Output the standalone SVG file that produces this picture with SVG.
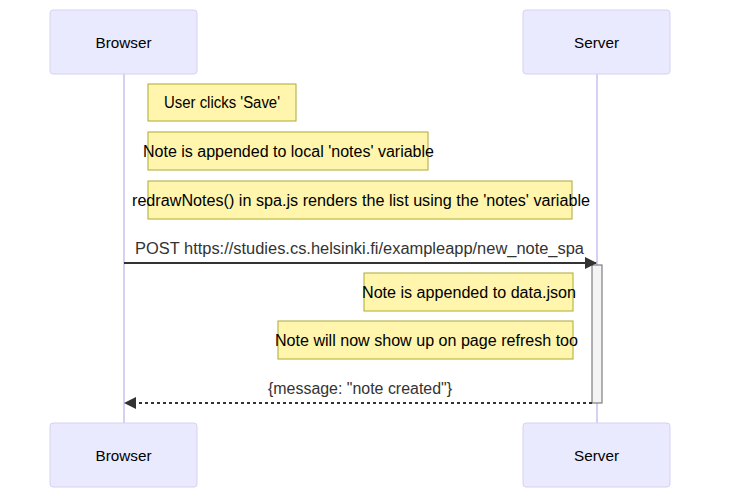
<svg xmlns="http://www.w3.org/2000/svg" width="729" height="504" viewBox="0 0 729 504">
<style>
.actor{fill:#eaeaff;stroke:#d6d0f2;stroke-width:1}
.atext{font-family:"Liberation Sans",Arial,sans-serif;font-size:15.5px;fill:#000;text-anchor:middle;dominant-baseline:central}
.life{stroke:#d6d0f2;stroke-width:2}
.note{fill:#fff5ad;stroke:#aaaa33;stroke-width:1}
.ntext{font-family:"Liberation Sans",Arial,sans-serif;font-size:16px;fill:#000;text-anchor:middle;dominant-baseline:central}
.mtext{font-family:"Liberation Sans",Arial,sans-serif;font-size:16px;fill:#333;text-anchor:middle;dominant-baseline:central}
.msg{stroke:#333;stroke-width:2;fill:none}
.act{fill:#f4f4f4;stroke:#666;stroke-width:1}
</style>
<defs>
<marker id="arrow" viewBox="0 0 12 12" refX="11" refY="6" markerWidth="12" markerHeight="12" markerUnits="userSpaceOnUse" orient="auto">
<path d="M0,0 L12,6 L0,12 z" fill="#333"/>
</marker>
</defs>
<g id="lifelines">
<line class="life" x1="124" y1="74" x2="124" y2="423"/>
<line class="life" x1="597" y1="74" x2="597" y2="423"/>
</g>
<g id="browser-top"><rect class="actor" x="50" y="10" width="147" height="64" rx="3"/><text class="atext" x="123.5" y="42" textLength="56" lengthAdjust="spacingAndGlyphs">Browser</text></g>
<g id="server-top"><rect class="actor" x="523" y="10" width="147" height="64" rx="3"/><text class="atext" x="596.5" y="42" textLength="45" lengthAdjust="spacingAndGlyphs">Server</text></g>
<g id="browser-bottom"><rect class="actor" x="50" y="423" width="147" height="64" rx="3"/><text class="atext" x="123.5" y="455" textLength="56" lengthAdjust="spacingAndGlyphs">Browser</text></g>
<g id="server-bottom"><rect class="actor" x="523" y="423" width="147" height="64" rx="3"/><text class="atext" x="596.5" y="455" textLength="45" lengthAdjust="spacingAndGlyphs">Server</text></g>
<g id="activation"><rect class="act" x="592" y="265" width="10" height="138"/></g>
<g id="note1"><rect class="note" x="148" y="84" width="148" height="37"/><text class="ntext" x="222" y="102.5" textLength="116" lengthAdjust="spacingAndGlyphs">User clicks 'Save'</text></g>
<g id="note2"><rect class="note" x="148" y="132" width="280" height="38"/><text class="ntext" x="288.5" y="151" textLength="291" lengthAdjust="spacingAndGlyphs">Note is appended to local 'notes' variable</text></g>
<g id="note3"><rect class="note" x="148" y="181" width="424" height="38"/><text class="ntext" x="361" y="200" textLength="458" lengthAdjust="spacingAndGlyphs">redrawNotes() in spa.js renders the list using the 'notes' variable</text></g>
<g id="note4"><rect class="note" x="364" y="273" width="209" height="38"/><text class="ntext" x="469" y="292" textLength="214" lengthAdjust="spacingAndGlyphs">Note is appended to data.json</text></g>
<g id="note5"><rect class="note" x="278" y="321" width="295" height="38"/><text class="ntext" x="426.5" y="340" textLength="303" lengthAdjust="spacingAndGlyphs">Note will now show up on page refresh too</text></g>
<g id="connectors">
<line class="msg" x1="124" y1="263" x2="596" y2="263" marker-end="url(#arrow)"/>
<text class="mtext" x="359.5" y="248" textLength="449" lengthAdjust="spacingAndGlyphs">POST https://studies.cs.helsinki.fi/exampleapp/new_note_spa</text>
<line class="msg" x1="592" y1="403" x2="125" y2="403" stroke-dasharray="3,3" marker-end="url(#arrow)"/>
<text class="mtext" x="360" y="388" textLength="184" lengthAdjust="spacingAndGlyphs">{message: "note created"}</text>
</g>
</svg>
